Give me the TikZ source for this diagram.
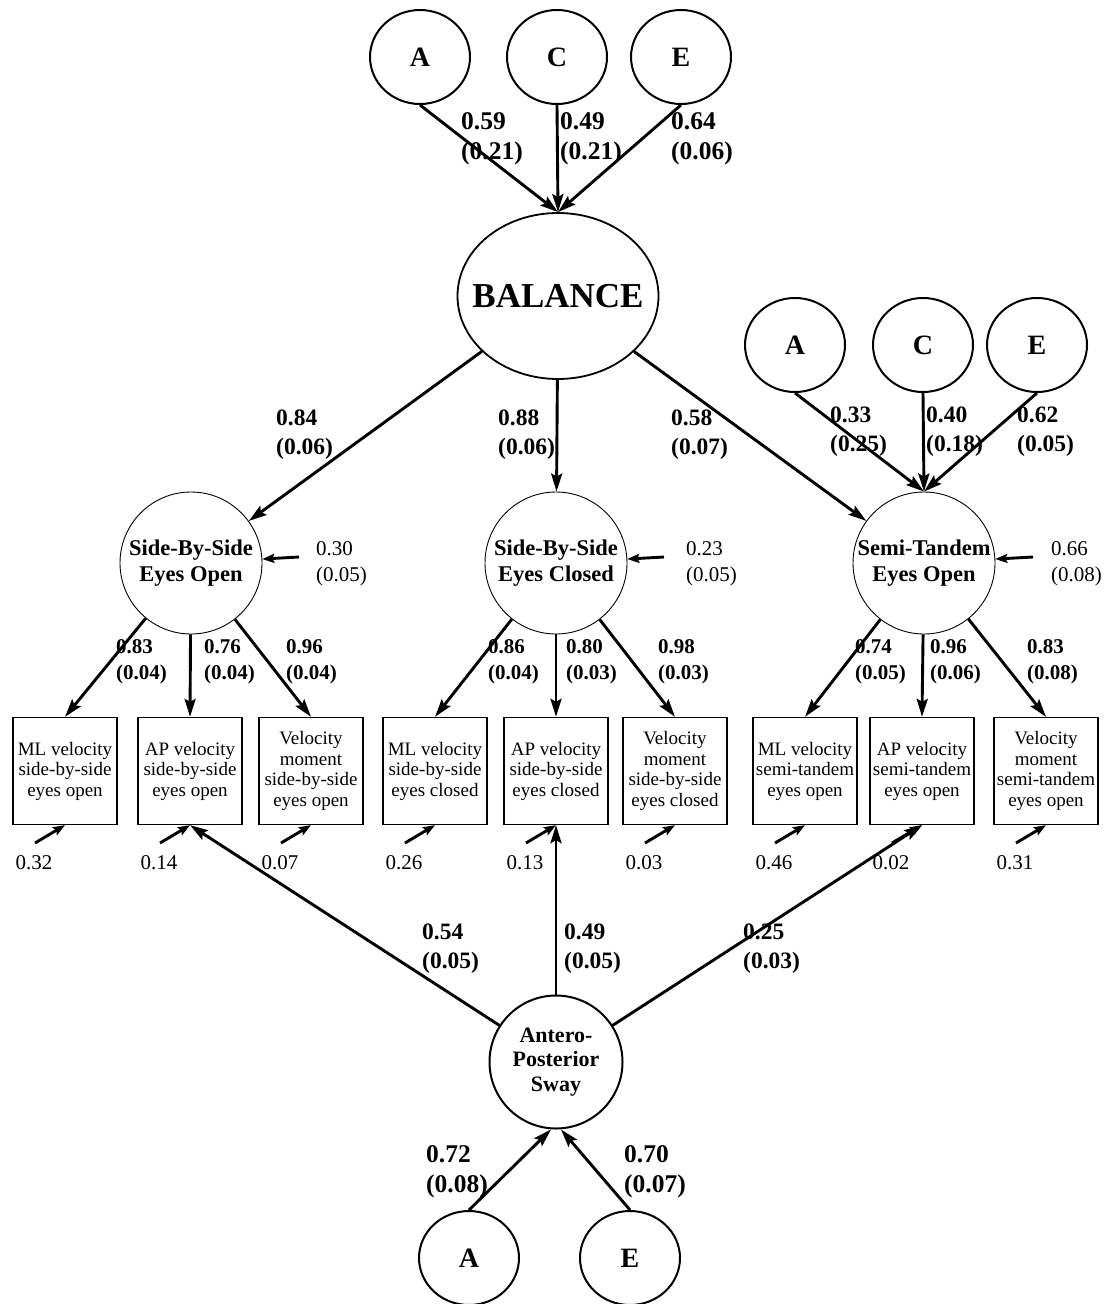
\documentclass[tikz,border=0pt]{standalone}
\usepackage{fontspec}
\setmainfont{Liberation Serif}
\usetikzlibrary{shapes.geometric,arrows.meta}
\tikzset{
  ace/.style={draw, line width=2pt, ellipse, minimum width=100pt, minimum height=94pt, inner sep=0pt, font=\fontsize{28}{30}\selectfont\bfseries},
  bal/.style={draw, line width=1.8pt, ellipse, minimum width=201pt, minimum height=166pt, inner xsep=-16pt, inner ysep=0pt, font=\fontsize{35}{38}\selectfont\bfseries},
  fac/.style={draw, line width=0.9pt, circle, minimum size=142pt, inner sep=0pt, align=center, font=\fontsize{22.5}{25.5}\selectfont\bfseries},
  aps/.style={draw, line width=2pt, circle, minimum size=133pt, inner sep=0pt, align=center, font=\fontsize{22}{24.5}\selectfont\bfseries},
  obs/.style={draw, line width=1.3pt, minimum width=104pt, minimum height=107pt, inner sep=0pt, align=center, font=\fontsize{19}{20.5}\selectfont},
  labA/.style={anchor=west, align=left, inner sep=0pt, font=\fontsize{25.5}{30}\selectfont\bfseries},
  labB/.style={anchor=west, align=left, inner sep=0pt, font=\fontsize{23.5}{29}\selectfont\bfseries},
  labC/.style={anchor=west, align=left, inner sep=0pt, font=\fontsize{21}{26}\selectfont\bfseries},
  rlab/.style={anchor=west, align=left, inner sep=0pt, font=\fontsize{21}{26}\selectfont},
  semarrow/.style={line width=2.9pt, -{Stealth[length=18pt,width=11pt,inset=3pt]}},
  resarrow/.style={line width=2.9pt, -{Stealth[length=12pt,width=9pt,inset=2pt]}},
}
\begin{document}
\begin{tikzpicture}[x=1pt,y=-1pt]
\useasboundingbox (0,0) rectangle (1108,1304);
% top ACE
\node[ace] (tA) at (420,57) {A};
\node[ace] (tC) at (557,57) {C};
\node[ace] (tE) at (681,57) {E};
\node[bal] (bal) at (558,296) {BALANCE};
\draw[semarrow] (tA.south) -- (bal.north);
\draw[semarrow] (tC.south) -- (bal.north);
\draw[semarrow] (tE.south) -- (bal.north);
\node[labA] (l1) at (461,139) {0.59\\(0.21)};
\node[labA] (l2) at (560,139) {0.49\\(0.21)};
\node[labA] (l3) at (671,139) {0.64\\(0.06)};
% right ACE
\node[ace] (rA) at (795,345) {A};
\node[ace] (rC) at (923,345) {C};
\node[ace] (rE) at (1037,345) {E};
% factors
\node[fac] (f1) at (191,563) {Side-By-Side\\Eyes Open};
\node[fac] (f2) at (556,563) {Side-By-Side\\Eyes Closed};
\node[fac] (f3) at (924,563) {Semi-Tandem\\Eyes Open};
\draw[semarrow] (rA.south) -- (f3.north);
\draw[semarrow] (rC.south) -- (f3.north);
\draw[semarrow] (rE.south) -- (f3.north);
\node[labB] (l4) at (830,432) {0.33\\(0.25)};
\node[labB] (l5) at (926,432) {0.40\\(0.18)};
\node[labB] (l6) at (1017,432) {0.62\\(0.05)};
\draw[semarrow] (bal) -- (f1);
\draw[semarrow] (bal) -- (f2);
\draw[semarrow] (bal) -- (f3);
\node[labB] (l7) at (276,435) {0.84\\(0.06)};
\node[labB] (l8) at (498,435) {0.88\\(0.06)};
\node[labB] (l9) at (671,435) {0.58\\(0.07)};
% factor residuals
\coordinate (e1) at (299,557);
\coordinate (e2) at (664,557);
\coordinate (e3) at (1033,557);
\draw[resarrow] (e1) -- (f1);
\draw[resarrow] (e2) -- (f2);
\draw[resarrow] (e3) -- (f3);
\node[rlab] (r1) at (316,564) {0.30\\(0.05)};
\node[rlab] (r2) at (686,564) {0.23\\(0.05)};
\node[rlab] (r3) at (1051,564) {0.66\\(0.08)};
% boxes
\node[obs] (b1) at (65,771) {ML velocity\\side-by-side\\eyes open};
\node[obs] (b2) at (190,771) {AP velocity\\side-by-side\\eyes open};
\node[obs] (b3) at (311,771) {Velocity\\moment\\side-by-side\\eyes open};
\node[obs] (b4) at (435,771) {ML velocity\\side-by-side\\eyes closed};
\node[obs] (b5) at (556,771) {AP velocity\\side-by-side\\eyes closed};
\node[obs] (b6) at (675,771) {Velocity\\moment\\side-by-side\\eyes closed};
\node[obs] (b7) at (805,771) {ML velocity\\semi-tandem\\eyes open};
\node[obs] (b8) at (922,771) {AP velocity\\semi-tandem\\eyes open};
\node[obs] (b9) at (1046,771) {Velocity\\moment\\semi-tandem\\eyes open};
\draw[semarrow] (f1) -- (b1.north);
\draw[semarrow] (f1) -- (b2.north);
\draw[semarrow] (f1) -- (b3.north);
\draw[semarrow] (f2) -- (b4.north);
\draw[semarrow] (f2) -- (b5.north);
\draw[semarrow] (f2) -- (b6.north);
\draw[semarrow] (f3) -- (b7.north);
\draw[semarrow] (f3) -- (b8.north);
\draw[semarrow] (f3) -- (b9.north);
\node[labC] (m1) at (116,662) {0.83\\(0.04)};
\node[labC] (m2) at (204,662) {0.76\\(0.04)};
\node[labC] (m3) at (286,662) {0.96\\(0.04)};
\node[labC] (m4) at (488,662) {0.86\\(0.04)};
\node[labC] (m5) at (566,662) {0.80\\(0.03)};
\node[labC] (m6) at (658,662) {0.98\\(0.03)};
\node[labC] (m7) at (855,662) {0.74\\(0.05)};
\node[labC] (m8) at (930,662) {0.96\\(0.06)};
\node[labC] (m9) at (1027,662) {0.83\\(0.08)};
% box residuals
\foreach \b/\x/\v in {b1/65/0.32, b2/190/0.14, b3/311/0.07, b4/435/0.26, b5/556/0.13, b6/675/0.03, b7/805/0.46, b8/922/0.02, b9/1046/0.31}{
  \coordinate (u\b) at (\x-30,843);
  \draw[resarrow] (u\b) -- (\b.south);
  \node[rlab, anchor=center] (v\b) at (\x-31,863) {\v};
}
% antero-posterior sway
\node[aps] (ap) at (556,1062) {Antero-\\Posterior\\Sway};
\draw[semarrow] (ap) -- (b2.south);
\draw[semarrow] (ap) -- (b5.south);
\draw[semarrow] (ap) -- (b8.south);
\node[labB] (n1) at (422,949) {0.54\\(0.05)};
\node[labB] (n2) at (564,949) {0.49\\(0.05)};
\node[labB] (n3) at (743,949) {0.25\\(0.03)};
% bottom A E
\node[ace] (bA) at (469,1258) {A};
\node[ace] (bE) at (630,1258) {E};
\draw[semarrow] (bA.north) -- ([xshift=-5pt]ap.south);
\draw[semarrow] (bE.north) -- ([xshift=5pt]ap.south);
\node[labA] (n4) at (426,1172) {0.72\\(0.08)};
\node[labA] (n5) at (624,1172) {0.70\\(0.07)};
\end{tikzpicture}
\end{document}
